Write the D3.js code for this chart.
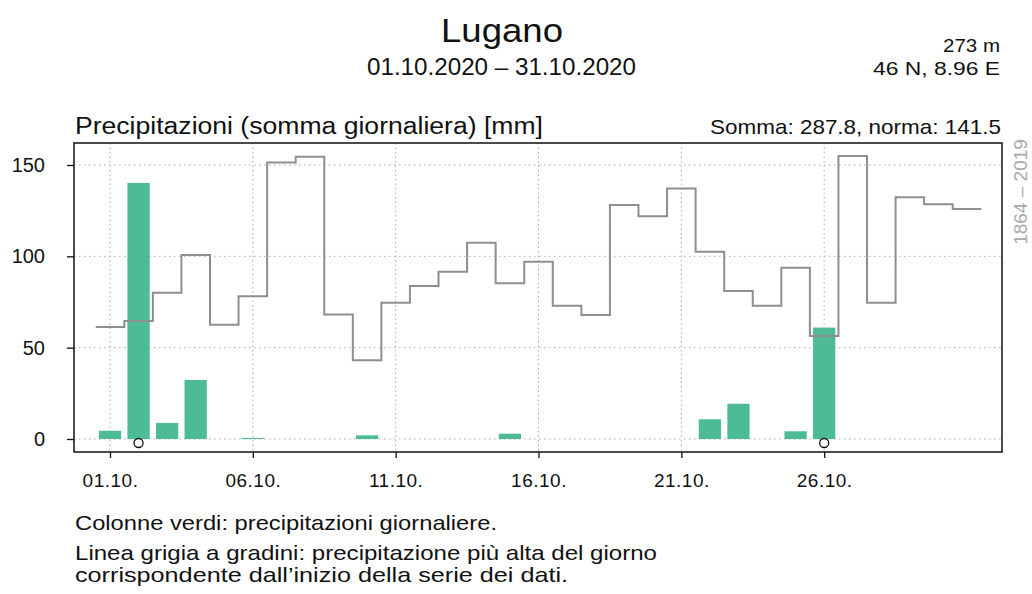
<!DOCTYPE html>
<html>
<head>
<meta charset="utf-8">
<script src="https://cdn.jsdelivr.net/npm/d3@7"></script>
<style>
  body { margin: 0; background: #fff; }
  svg text { font-family: "Liberation Sans", Arial, Helvetica, sans-serif; fill: #111; }
</style>
</head>
<body>
<svg id="chart" width="1032" height="594"></svg>
<script>
(function() {

  // daily precipitation, October 2020 (mm)
  var days = d3.range(1, 32)
  var rain = [4.5, 140.2, 8.8, 32.3, 0, 0.6, 0, 0, 0, 2.0,
              0, 0, 0, 0, 2.9, 0, 0, 0, 0, 0,
              0, 10.8, 19.3, 0, 4.2, 61.0, 0, 0, 0, 0, 0]
  // highest value for the same day since start of series
  var record = [61.3, 64.6, 80.1, 100.7, 62.6, 78.1, 151.4, 154.5, 68.2, 43.1,
                74.6, 83.7, 91.6, 107.4, 85.2, 97.1, 73.0, 67.9, 128.1, 122.0,
                137.2, 102.5, 81.0, 73.0, 93.8, 56.4, 154.9, 74.6, 132.3, 128.5, 125.9]
  var newRecordDays = [2, 26]
  var xTicks = [1, 6, 11, 16, 21, 26]
  var yTicks = [0, 50, 100, 150]

  var box = { left: 74, right: 1002, top: 143, bottom: 452 }

  var svg = d3.select("#chart")

  var x = d3.scaleLinear().domain([1, 31]).range([110, 967])
  var y = d3.scaleLinear().domain([0, 150]).range([439, 165])
  var dayW = x(2) - x(1)

  // grid
  svg.append('g')
    .selectAll('line')
    .data(yTicks)
    .enter()
    .append('line')
    .attr('x1', box.left).attr('x2', box.right)
    .attr('y1', function(d) { return y(d) })
    .attr('y2', function(d) { return y(d) })
    .attr('stroke', '#aaa')
    .attr('stroke-dasharray', '1.5,3.5')

  svg.append('g')
    .selectAll('line')
    .data(xTicks)
    .enter()
    .append('line')
    .attr('y1', box.top).attr('y2', box.bottom)
    .attr('x1', function(d) { return x(d) })
    .attr('x2', function(d) { return x(d) })
    .attr('stroke', '#aaa')
    .attr('stroke-dasharray', '1.5,3')

  // bars
  svg.append('g')
    .selectAll('rect')
    .data(days.filter(function(d) { return rain[d - 1] > 0 }))
    .enter()
    .append('rect')
    .attr('x', function(d) { return x(d) - dayW * 0.39 })
    .attr('width', dayW * 0.78)
    .attr('y', function(d) { return y(rain[d - 1]) })
    .attr('height', function(d) { return y(0) - y(rain[d - 1]) })
    .attr('fill', '#4dbb98')

  // step line
  var pts = []
  days.forEach(function(d, i) {
    pts.push([d - 0.5, record[i]])
    pts.push([d + 0.5, record[i]])
  })
  var line = d3.line()
    .x(function(d) { return x(d[0]) })
    .y(function(d) { return y(d[1]) })
  svg.append('path')
    .datum(pts)
    .attr('d', line)
    .attr('fill', 'none')
    .attr('stroke', '#8e8e8e')
    .attr('stroke-width', 2)

  // new record markers
  svg.append('g')
    .selectAll('circle')
    .data(newRecordDays)
    .enter()
    .append('circle')
    .attr('cx', function(d) { return x(d) })
    .attr('cy', y(0) + 4)
    .attr('r', 4.5)
    .attr('fill', '#fff')
    .attr('stroke', '#111')
    .attr('stroke-width', 1.3)

  // box
  svg.append('rect')
    .attr('x', box.left).attr('y', box.top)
    .attr('width', box.right - box.left)
    .attr('height', box.bottom - box.top)
    .attr('fill', 'none')
    .attr('stroke', '#111')
    .attr('stroke-width', 1.5)

  // axes
  var yAxis = d3.axisLeft(y).tickValues(yTicks).tickSize(7).tickPadding(22)
  var yg = svg.append('g')
    .attr('transform', 'translate(' + box.left + ',0)')
    .call(yAxis)
  yg.select('.domain').remove()
  yg.selectAll('line').attr('stroke', '#111').attr('stroke-width', 1.3)
  yg.selectAll('text').style('font-size', '20px').attr('fill', '#111')

  var xAxis = d3.axisBottom(x).tickValues(xTicks).tickSize(6).tickPadding(16)
    .tickFormat(function(d) { return d3.format('02')(d) + '.10.' })
  var xg = svg.append('g')
    .attr('transform', 'translate(0,' + box.bottom + ')')
    .call(xAxis)
  xg.select('.domain').remove()
  xg.selectAll('line').attr('stroke', '#111').attr('stroke-width', 1.3)
  xg.selectAll('text').style('font-size', '19px').style('letter-spacing', '0.5px').attr('fill', '#111')

  // text helper: reference type is a bit wider than Liberation Sans
  function label(txt, px, py, size, anchor, len) {
    var t = svg.append('text').attr('x', px).attr('y', py)
      .attr('text-anchor', anchor).style('font-size', size + 'px').text(txt)
    if (len) t.attr('textLength', len).attr('lengthAdjust', 'spacingAndGlyphs')
    return t
  }

  label('Lugano', 502, 42, 33, 'middle', 122)
  label('01.10.2020 – 31.10.2020', 501.5, 75, 23, 'middle', 269)
  label('273 m', 1000, 52, 19, 'end', 57)
  label('46 N, 8.96 E', 1000, 75, 19, 'end', 127)

  label('Precipitazioni (somma giornaliera) [mm]', 75, 134, 23, 'start', 468)
  label('Somma: 287.8, norma: 141.5', 1001, 134, 21, 'end', 291)

  svg.append('text')
    .attr('transform', 'translate(1027,192) rotate(-90)')
    .attr('text-anchor', 'middle')
    .style('font-size', '19px').style('fill', '#aaa')
    .text('1864 – 2019')

  // notes
  var notes = ['Colonne verdi: precipitazioni giornaliere.',
               'Linea grigia a gradini: precipitazione più alta del giorno',
               'corrispondente dall’inizio della serie dei dati.']
  var noteY = [530, 560, 582]
  var noteW = [422, 582, 493]
  notes.forEach(function(n, i) {
    label(n, 75, noteY[i], 21, 'start', noteW[i])
  })

})()
</script>
</body>
</html>
